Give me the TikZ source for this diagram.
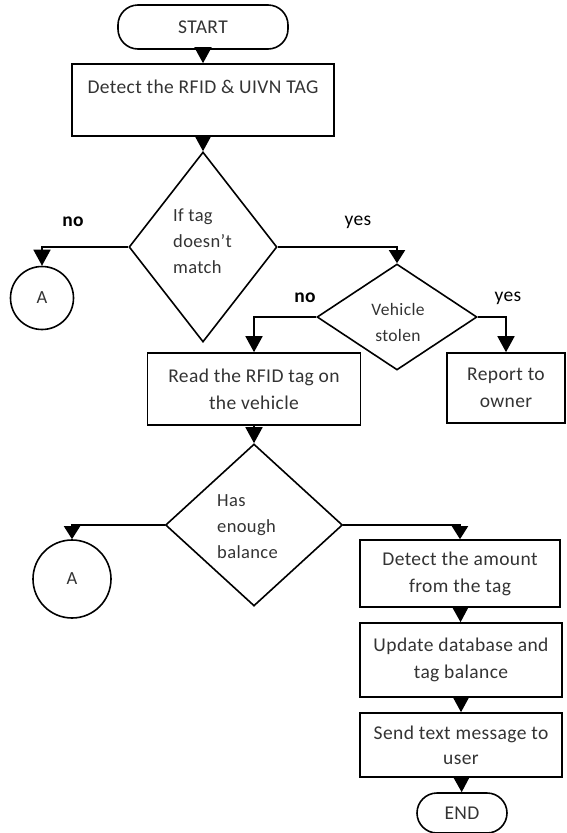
\documentclass[tikz,border=0pt]{standalone}
\usepackage{fontspec}
\setmainfont[LetterSpace=2]{Carlito}
\usetikzlibrary{arrows.meta,shapes.geometric}
\begin{document}
\begin{tikzpicture}[x=1pt,y=-1pt,
  ln/.style={line width=1.6pt, draw=black},
  arr/.style={ln, -{Triangle[length=16pt,width=17pt]}},
  sarr/.style={ln, -{Triangle[length=13pt,width=16pt]}},
  box/.style={draw=black, line width=1.6pt, rectangle, inner sep=0pt, align=center,
    text=black!80, font=\fontsize{19.5}{27}\selectfont},
  term/.style={draw=black, line width=1.6pt, rectangle, rounded corners=20pt, inner sep=0pt,
    text=black!80, font=\fontsize{19.5}{27}\selectfont},
  dia/.style={draw=black, diamond, line width=1.6pt, inner sep=0pt},
  dtxt/.style={align=left, inner sep=0pt, text=black!80, font=\fontsize{18.5}{26}\selectfont},
  vtxt/.style={align=center, inner sep=0pt, text=black!80, font=\fontsize{17.5}{26}\selectfont},
  lbl/.style={inner sep=0pt, text=black, font=\fontsize{19.5}{24}\selectfont},
  conn/.style={draw=black, circle, line width=1.6pt, inner sep=0pt, text=black!80,
    font=\fontsize{18.5}{20}\selectfont}]
\useasboundingbox (0,0) rectangle (566,833);

% nodes
\node[term, minimum width=170pt, minimum height=44pt] (start) at (203,27) {START};
\node[box, minimum width=262pt, minimum height=72pt] (det) at (203,100) {Detect the RFID \& UIVN TAG\\\mbox{}};
\node[dia, minimum width=148pt, minimum height=190pt] (d1) at (203,247) {};
\node[dtxt, anchor=west] (d1t) at (173,241) {If tag\\doesn’t\\match};
\node[conn, minimum size=63pt] (a1) at (42,298) {A};
\node[dia, minimum width=160pt, minimum height=106pt] (vs) at (397,317) {};
\node[vtxt] (vst) at (398,322) {Vehicle\\stolen};
\node[box, minimum width=213pt, minimum height=72pt] (read) at (254,389) {Read the RFID tag on\\the vehicle};
\node[box, minimum width=118pt, minimum height=70pt] (rep) at (506,388) {Report to\\owner};
\node[dia, minimum width=177pt, minimum height=162pt] (d2) at (254,525) {};
\node[dtxt, anchor=west] (d2t) at (217,527) {Has\\enough\\balance};
\node[conn, minimum size=78pt] (a2) at (72,579) {A};
\node[box, minimum width=200pt, minimum height=67pt] (amt) at (460,573.5) {Detect the amount\\from the tag};
\node[box, minimum width=202pt, minimum height=74pt] (upd) at (461,660) {Update database and\\tag balance};
\node[box, minimum width=202pt, minimum height=64pt, font=\fontsize{19.5}{25}\selectfont] (send) at (461,745) {Send text message to\\user};
\node[term, minimum width=90pt, minimum height=40pt] (end) at (462,813) {END};

% branch labels
\node[lbl, font=\fontsize{19.5}{24}\bfseries] (no1) at (73,222) {no};
\node[lbl] (yes1) at (358,222) {yes};
\node[lbl, font=\fontsize{19.5}{24}\bfseries] (no2) at (305,298) {no};
\node[lbl] (yes2) at (508,298) {yes};

% connectors
\draw[arr] (start) -- (det);
\draw[arr] (det) -- (d1);
\draw[arr] (d1.west) -| (a1.north);
\draw[sarr] (d1.east) -| (vs.north);
\draw[arr] (vs.west) -| (read.north);
\draw[arr] (vs.east) -| (rep.north);
\draw[arr] (read) -- (d2);
\draw[sarr] (d2.west) -| (a2.north);
\draw[sarr] (d2.east) -| (amt.north);
\draw[arr] (amt) -- (upd);
\draw[arr] (upd) -- (send);
\draw[arr] (send) -- (end);
\end{tikzpicture}
\end{document}
